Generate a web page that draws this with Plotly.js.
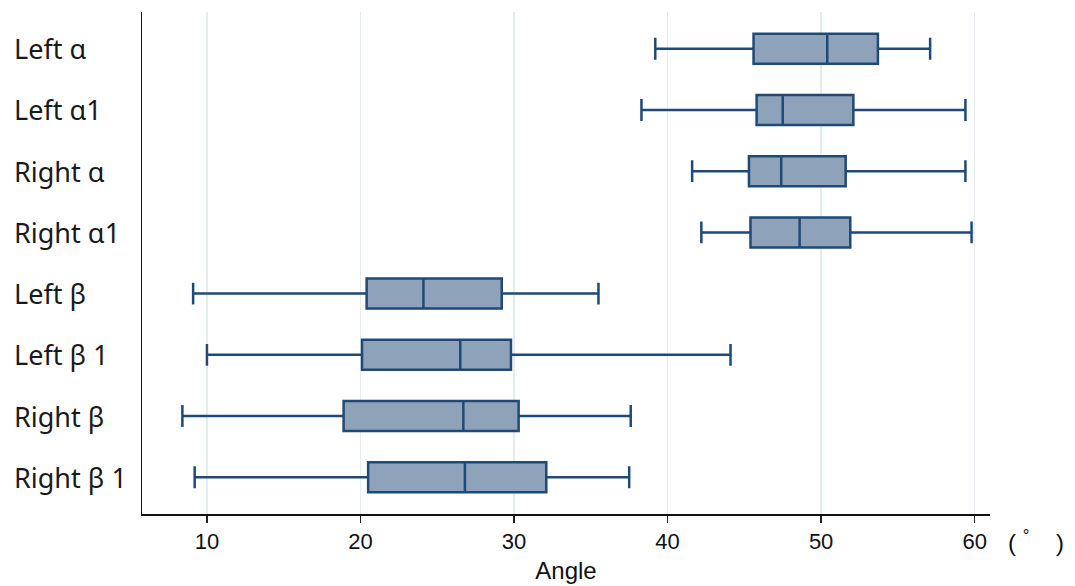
<!DOCTYPE html>
<html>
<head>
<meta charset="utf-8">
<script src="https://cdn.plot.ly/plotly-3.0.1.min.js"></script>
<style>html,body{margin:0;padding:0;background:#fff;}#chart{width:1075px;height:586px;}</style>
</head>
<body>
<div id="chart"></div>
<script>
const categories = ["Left α", "Left α1", "Right α", "Right α1", "Left β", "Left β 1", "Right β", "Right β 1"];
const lowerWhisker = [39.2, 38.3, 41.6, 42.2, 9.1, 10.0, 8.4, 9.2];
const q1Values     = [45.6, 45.8, 45.3, 45.4, 20.4, 20.1, 18.9, 20.5];
const medianValues = [50.4, 47.5, 47.4, 48.6, 24.1, 26.5, 26.7, 26.8];
const q3Values     = [53.7, 52.1, 51.6, 51.9, 29.2, 29.8, 30.3, 32.1];
const upperWhisker = [57.1, 59.4, 59.4, 59.8, 35.5, 44.1, 37.6, 37.5];
const xTicks = [10, 20, 30, 40, 50, 60];

const trace = {
  type: "box",
  orientation: "h",
  y: categories,
  q1: q1Values,
  median: medianValues,
  q3: q3Values,
  lowerfence: lowerWhisker,
  upperfence: upperWhisker,
  width: 0.49,
  whiskerwidth: 0.73,
  fillcolor: "#8ea3ba",
  line: {color: "#1f4a78", width: 2.5},
  boxpoints: false,
  hoverinfo: "skip",
  showlegend: false
};

const labelAnnotations = categories.map(c => ({
  text: c, x: -0.1533, xref: "paper", y: c, yref: "y",
  xanchor: "left", yanchor: "middle", showarrow: false,
  font: {family: "Noto Sans, Open Sans, sans-serif", size: 27, color: "#1a1a1a"}
}));

const layout = {
  width: 1075, height: 586,
  margin: {l: 142, r: 85, t: 12, b: 72},
  paper_bgcolor: "#ffffff",
  plot_bgcolor: "#ffffff",
  xaxis: {
    range: [5.77, 61.0],
    tickvals: xTicks,
    ticktext: xTicks.map(String),
    ticks: "outside", ticklen: 7, tickwidth: 1.5, tickcolor: "#222",
    showgrid: true, gridcolor: "#e3ecef", gridwidth: 1.5,
    zeroline: false,
    showline: true, linecolor: "#111", linewidth: 1.5,
    tickfont: {family: "Liberation Sans, Arial, sans-serif", size: 22, color: "#111"},
    title: {text: "Angle", standoff: 9, font: {family: "Liberation Sans, Arial, sans-serif", size: 24, color: "#111"}},
    fixedrange: true
  },
  yaxis: {
    type: "category",
    categoryorder: "array",
    categoryarray: categories,
    range: [7.6, -0.6],
    showticklabels: false,
    ticks: "",
    showgrid: false,
    zeroline: false,
    showline: true, linecolor: "#111", linewidth: 1.5,
    fixedrange: true
  },
  annotations: labelAnnotations.concat([{
    text: "(\u00a0<sup>°</sup>\u00a0\u00a0\u00a0\u00a0)", x: 1.019, xref: "paper", y: -0.054, yref: "paper",
    xanchor: "left", yanchor: "middle", showarrow: false,
    font: {family: "Liberation Sans, Arial, sans-serif", size: 24, color: "#111"}
  }])
};

Plotly.newPlot("chart", [trace], layout, {displayModeBar: false, staticPlot: true});
</script>
</body>
</html>
